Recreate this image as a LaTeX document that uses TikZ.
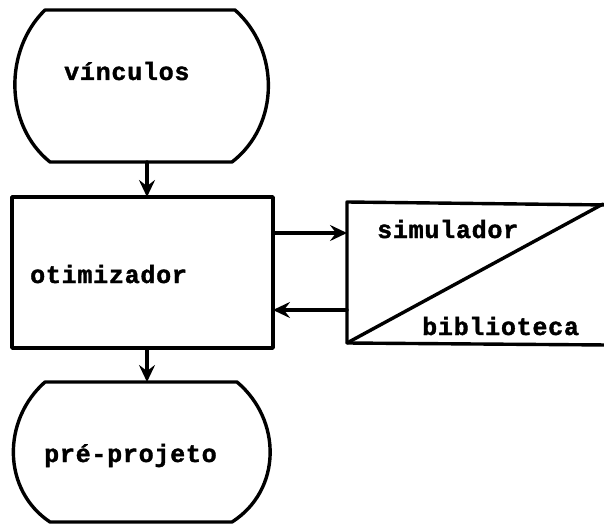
\documentclass[tikz,border=0pt]{standalone}
\usepackage{fontspec}
\newfontfamily\tw[LetterSpace=3,FakeBold=1.5]{Liberation Mono}
\usetikzlibrary{arrows.meta,calc}
\tikzset{
  ln/.style={line width=3.4pt, line join=round, line cap=round},
  arr/.style={ln, -{Stealth[length=17pt,width=16pt,inset=6pt]}},
  lbl/.style={font=\tw\bfseries\fontsize{25}{29}\selectfont, inner sep=0pt, anchor=base west},
  ghost/.style={inner sep=0pt, outer sep=0pt}
}
\begin{document}
\begin{tikzpicture}[x=1pt,y=-1pt]
\useasboundingbox (0,0) rectangle (604,529);
% vinculos terminal
\draw[ln] (45,10) -- (235,10) .. controls (280,50) and (280,125) .. (232,162)
  -- (50,162) .. controls (4,125) and (4,50) .. (45,10) -- cycle;
\node[ghost, minimum width=0pt, minimum height=152pt] (vinc) at (147,86) {};
\node[lbl] (vinct) at (64,80) {vínculos};
% otimizador box
\node[ln, draw, minimum width=261pt, minimum height=151pt, ghost] (otim) at (142.5,272.5) {};
\node[lbl] (otimt) at (30,283) {otimizador};
% pre-projeto terminal
\draw[ln] (45,382) -- (237,382) .. controls (282,420) and (282,490) .. (232,522)
  -- (50,522) .. controls (2,490) and (2,420) .. (45,382) -- cycle;
\node[ghost, minimum width=0pt, minimum height=140pt] (pre) at (147,452) {};
\node[lbl] (pret) at (44,462) {pré-projeto};
% simulador / biblioteca
\coordinate (s1) at (347,202);
\coordinate (s2) at (608,205);
\coordinate (s3) at (608,345);
\coordinate (s4) at (347,343);
\draw[ln] (s2) -- (s1) -- (s4) -- (s3);
\draw[ln] (s4) -- (603,204);
\node[ghost, minimum width=0pt, minimum height=141pt] (sim) at (347,272.5) {};
\node[lbl] (simt) at (377,238) {simulador};
\node[lbl] (bibt) at (422,335) {biblioteca};
% connectors
\coordinate (ya) at (0,233);
\coordinate (yb) at (0,310);
\draw[arr] (vinc.south) -- (otim.north -| vinc.south);
\draw[arr] (otim.south -| pre.north) -- (pre.north);
\draw[arr] (otim.east |- ya) -- (sim.west |- ya);
\draw[arr] (sim.west |- yb) -- (otim.east |- yb);
\end{tikzpicture}
\end{document}
